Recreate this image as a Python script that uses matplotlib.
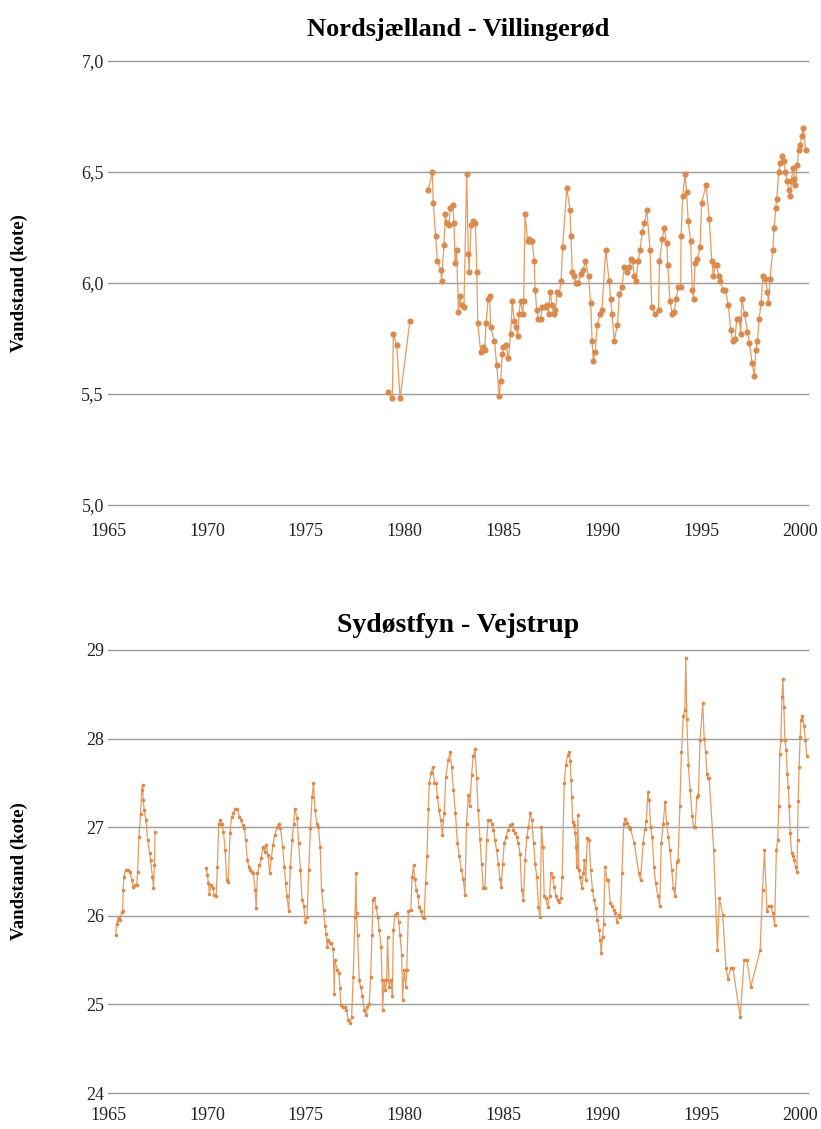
import matplotlib
matplotlib.use('Agg')
import matplotlib.pyplot as plt
from matplotlib.ticker import FuncFormatter

# Nordsjaelland - Villingeroed, two measuring periods
north_yr1 = [1979.18, 1979.38, 1979.43, 1979.60, 1979.77, 1980.27]
north_val1 = [5.51, 5.48, 5.77, 5.72, 5.48, 5.83]

north_yr2 = [
    1981.20, 1981.40, 1981.45, 1981.57, 1981.66, 1981.83, 1981.87, 1981.99, 1982.06, 1982.13,
    1982.25, 1982.30, 1982.43, 1982.50, 1982.55, 1982.63, 1982.72, 1982.80, 1982.88, 1983.00,
    1983.14, 1983.22, 1983.26, 1983.36, 1983.44, 1983.58, 1983.65, 1983.70, 1983.85, 1983.98,
    1984.05, 1984.12, 1984.23, 1984.30, 1984.35, 1984.54, 1984.66, 1984.78, 1984.86, 1984.94,
    1985.00, 1985.13, 1985.25, 1985.36, 1985.45, 1985.54, 1985.64, 1985.72, 1985.78, 1985.87,
    1985.97, 1986.02, 1986.09, 1986.22, 1986.30, 1986.36, 1986.44, 1986.56, 1986.60, 1986.68,
    1986.76, 1986.88, 1986.96, 1987.10, 1987.20, 1987.28, 1987.35, 1987.46, 1987.55, 1987.63,
    1987.72, 1987.82, 1987.91, 1987.99, 1988.20, 1988.36, 1988.41, 1988.48, 1988.58, 1988.66,
    1988.78, 1988.90, 1989.03, 1989.14, 1989.30, 1989.41, 1989.48, 1989.54, 1989.64, 1989.74,
    1989.88, 1989.98, 1990.17, 1990.34, 1990.42, 1990.49, 1990.60, 1990.76, 1990.86, 1990.99,
    1991.11, 1991.23, 1991.35, 1991.43, 1991.53, 1991.61, 1991.70, 1991.81, 1991.91, 1992.01,
    1992.13, 1992.25, 1992.41, 1992.50, 1992.67, 1992.84, 1992.89, 1993.04, 1993.12, 1993.26,
    1993.31, 1993.42, 1993.54, 1993.64, 1993.73, 1993.84, 1993.96, 1993.98, 1994.06, 1994.18,
    1994.26, 1994.34, 1994.46, 1994.55, 1994.61, 1994.69, 1994.80, 1994.94, 1995.02, 1995.24,
    1995.41, 1995.53, 1995.62, 1995.70, 1995.79, 1995.88, 1995.96, 1996.09, 1996.21, 1996.37,
    1996.49, 1996.59, 1996.71, 1996.80, 1996.92, 1997.00, 1997.05, 1997.19, 1997.34, 1997.44,
    1997.57, 1997.69, 1997.76, 1997.84, 1997.93, 1998.03, 1998.11, 1998.23, 1998.35, 1998.40,
    1998.48, 1998.62, 1998.69, 1998.77, 1998.82, 1998.92, 1999.00, 1999.09, 1999.17, 1999.26,
    1999.34, 1999.43, 1999.51, 1999.56, 1999.64, 1999.71, 1999.76, 1999.85, 1999.93, 1999.99,
    2000.10, 2000.17, 2000.28]
north_val2 = [
    6.42, 6.50, 6.36, 6.21, 6.10, 6.06, 6.01, 6.17, 6.31, 6.27,
    6.26, 6.34, 6.35, 6.27, 6.09, 6.15, 5.87, 5.94, 5.90, 5.89,
    6.49, 6.13, 6.05, 6.26, 6.28, 6.27, 6.05, 5.82, 5.69, 5.71,
    5.70, 5.82, 5.93, 5.94, 5.80, 5.74, 5.63, 5.49, 5.56, 5.68,
    5.71, 5.72, 5.66, 5.77, 5.92, 5.83, 5.80, 5.76, 5.86, 5.92,
    5.86, 5.92, 6.31, 6.19, 6.20, 6.19, 6.19, 6.10, 5.97, 5.88,
    5.84, 5.84, 5.89, 5.89, 5.90, 5.86, 5.96, 5.90, 5.86, 5.88,
    5.96, 5.95, 6.01, 6.16, 6.43, 6.33, 6.21, 6.05, 6.03, 6.00,
    6.00, 6.04, 6.06, 6.10, 6.03, 5.91, 5.74, 5.65, 5.69, 5.81,
    5.86, 5.88, 6.15, 6.01, 5.93, 5.86, 5.74, 5.81, 5.95, 5.98,
    6.07, 6.05, 6.07, 6.11, 6.10, 6.03, 6.01, 6.10, 6.15, 6.23,
    6.27, 6.33, 6.15, 5.89, 5.86, 5.88, 6.10, 6.20, 6.25, 6.18,
    6.08, 5.92, 5.86, 5.87, 5.93, 5.98, 5.98, 6.21, 6.39, 6.49,
    6.41, 6.28, 6.19, 5.97, 5.93, 6.09, 6.11, 6.16, 6.36, 6.44,
    6.29, 6.10, 6.03, 6.08, 6.08, 6.03, 6.01, 5.97, 5.97, 5.90,
    5.79, 5.74, 5.75, 5.84, 5.84, 5.77, 5.93, 5.86, 5.78, 5.73,
    5.64, 5.58, 5.70, 5.74, 5.84, 5.91, 6.03, 6.02, 5.96, 5.91,
    6.02, 6.15, 6.25, 6.34, 6.38, 6.50, 6.54, 6.57, 6.55, 6.50,
    6.46, 6.42, 6.39, 6.46, 6.52, 6.47, 6.44, 6.53, 6.60, 6.62,
    6.66, 6.70, 6.60]

# Sydoestfyn - Vejstrup
south_yr1 = [
    1965.40, 1965.43, 1965.50, 1965.55, 1965.60, 1965.69, 1965.74, 1965.77, 1965.80, 1965.89,
    1966.00, 1966.10, 1966.20, 1966.28, 1966.37, 1966.45, 1966.50, 1966.56, 1966.65, 1966.70,
    1966.75, 1966.78, 1966.83, 1966.92, 1967.00, 1967.10, 1967.15, 1967.25, 1967.30, 1967.35,
    1967.38]
south_val1 = [
    25.78, 25.91, 25.95, 25.99, 25.95, 26.04, 26.05, 26.29, 26.44, 26.52,
    26.52, 26.50, 26.40, 26.33, 26.35, 26.35, 26.50, 26.89, 27.15, 27.42,
    27.48, 27.31, 27.19, 27.08, 26.86, 26.71, 26.63, 26.44, 26.31, 26.57,
    26.95]

south_yr2 = [
    1969.96, 1970.03, 1970.08, 1970.13, 1970.20, 1970.29, 1970.37, 1970.47, 1970.53, 1970.60,
    1970.67, 1970.75, 1970.84, 1970.92, 1971.00, 1971.08, 1971.17, 1971.25, 1971.34, 1971.42,
    1971.54, 1971.64, 1971.73, 1971.81, 1971.90, 1971.96, 1972.05, 1972.12, 1972.18, 1972.27,
    1972.35, 1972.44, 1972.49, 1972.56, 1972.66, 1972.75, 1972.83, 1972.92, 1973.00, 1973.09,
    1973.17, 1973.26, 1973.34, 1973.43, 1973.55, 1973.65, 1973.72, 1973.83, 1973.92, 1973.98,
    1974.05, 1974.14, 1974.22, 1974.31, 1974.39, 1974.44, 1974.56, 1974.64, 1974.73, 1974.81,
    1974.90, 1974.98, 1975.07, 1975.15, 1975.24, 1975.32, 1975.39, 1975.47, 1975.56, 1975.64,
    1975.73, 1975.80, 1975.90, 1975.98, 1976.03, 1976.09, 1976.14, 1976.22, 1976.30, 1976.39,
    1976.44, 1976.47, 1976.59, 1976.68, 1976.73, 1976.78, 1976.86, 1976.98, 1977.06, 1977.15,
    1977.23, 1977.32, 1977.40, 1977.49, 1977.54, 1977.57, 1977.62, 1977.71, 1977.77, 1977.87,
    1977.96, 1978.04, 1978.12, 1978.21, 1978.28, 1978.35, 1978.40, 1978.47, 1978.55, 1978.64,
    1978.72, 1978.81, 1978.86, 1978.89, 1978.96, 1979.03, 1979.09, 1979.14, 1979.21, 1979.31,
    1979.38, 1979.43, 1979.51, 1979.63, 1979.70, 1979.77, 1979.85, 1979.90, 1979.97, 1980.06,
    1980.11, 1980.19, 1980.31, 1980.38, 1980.45, 1980.51, 1980.60, 1980.67, 1980.74, 1980.82,
    1980.92, 1980.99, 1981.06, 1981.13, 1981.20, 1981.25, 1981.34, 1981.42, 1981.51, 1981.59,
    1981.66, 1981.74, 1981.83, 1981.91, 1982.00, 1982.08, 1982.21, 1982.30, 1982.38, 1982.47,
    1982.57, 1982.67, 1982.77, 1982.87, 1982.97, 1983.05, 1983.13, 1983.22, 1983.30, 1983.39,
    1983.47, 1983.56, 1983.64, 1983.72, 1983.81, 1983.89, 1983.98, 1984.06, 1984.15, 1984.23,
    1984.32, 1984.40, 1984.49, 1984.57, 1984.65, 1984.74, 1984.82, 1984.89, 1984.96, 1985.04,
    1985.13, 1985.23, 1985.33, 1985.41, 1985.50, 1985.58, 1985.67, 1985.75, 1985.84, 1985.92,
    1986.01, 1986.09, 1986.18, 1986.26, 1986.35, 1986.43, 1986.52, 1986.60, 1986.68, 1986.77,
    1986.85, 1986.92, 1986.99, 1987.06, 1987.14, 1987.23, 1987.33, 1987.40, 1987.48, 1987.57,
    1987.65, 1987.74, 1987.82, 1987.90, 1987.97, 1988.07, 1988.15, 1988.24, 1988.32, 1988.37,
    1988.42, 1988.45, 1988.50, 1988.57, 1988.64, 1988.67, 1988.71, 1988.76, 1988.81, 1988.87,
    1988.96, 1989.04, 1989.09, 1989.16, 1989.24, 1989.33, 1989.41, 1989.50, 1989.58, 1989.67,
    1989.75, 1989.84, 1989.89, 1989.94, 1990.01, 1990.06, 1990.14, 1990.23, 1990.31, 1990.40,
    1990.48, 1990.57, 1990.65, 1990.74, 1990.82, 1990.91, 1990.99, 1991.08, 1991.16, 1991.25,
    1991.33, 1991.42, 1991.62, 1991.84, 1991.93, 1992.06, 1992.15, 1992.23, 1992.30, 1992.37,
    1992.44, 1992.52, 1992.61, 1992.69, 1992.81, 1992.90, 1992.98, 1993.08, 1993.17, 1993.25,
    1993.34, 1993.42, 1993.51, 1993.59, 1993.68, 1993.76, 1993.83, 1993.92, 1994.00, 1994.10,
    1994.17, 1994.22, 1994.27, 1994.35, 1994.44, 1994.54, 1994.61, 1994.69, 1994.78, 1994.86,
    1994.94, 1995.08, 1995.15, 1995.22, 1995.29, 1995.34, 1995.40, 1995.63, 1995.82, 1995.92,
    1996.09, 1996.25, 1996.35, 1996.50, 1996.60, 1996.97, 1997.17, 1997.31, 1997.51, 1997.98,
    1998.10, 1998.20, 1998.32, 1998.41, 1998.53, 1998.61, 1998.71, 1998.80, 1998.87, 1998.92,
    1998.97, 1999.03, 1999.08, 1999.13, 1999.18, 1999.23, 1999.30, 1999.35, 1999.40, 1999.45,
    1999.50, 1999.57, 1999.64, 1999.70, 1999.77, 1999.84, 1999.87, 1999.90, 1999.95, 2000.00,
    2000.05, 2000.12, 2000.20, 2000.27, 2000.34]
south_val2 = [
    26.54, 26.46, 26.37, 26.25, 26.35, 26.31, 26.24, 26.22, 26.55, 27.04,
    27.08, 27.04, 26.95, 26.74, 26.40, 26.38, 26.93, 27.12, 27.16, 27.20,
    27.21, 27.12, 27.08, 27.02, 26.99, 26.86, 26.63, 26.55, 26.52, 26.50,
    26.48, 26.29, 26.09, 26.48, 26.57, 26.65, 26.78, 26.72, 26.80, 26.69,
    26.48, 26.65, 26.80, 26.91, 27.00, 27.04, 26.99, 26.78, 26.55, 26.37,
    26.22, 26.05, 26.55, 26.86, 27.04, 27.21, 27.10, 26.82, 26.52, 26.18,
    26.11, 25.93, 25.99, 26.52, 26.99, 27.34, 27.50, 27.19, 27.04, 27.00,
    26.78, 26.29, 26.06, 25.88, 25.80, 25.65, 25.73, 25.69, 25.69, 25.63,
    25.12, 25.50, 25.39, 25.35, 25.18, 24.99, 24.97, 24.97, 24.94, 24.82,
    24.79, 24.86, 25.31, 25.99, 26.48, 26.03, 25.78, 25.27, 25.20, 25.09,
    24.94, 24.88, 24.97, 25.01, 25.31, 25.78, 26.18, 26.20, 26.10, 25.99,
    25.84, 25.65, 25.28, 24.94, 25.28, 25.16, 25.28, 25.76, 25.20, 25.28,
    25.09, 25.84, 26.01, 26.03, 25.93, 25.78, 25.56, 25.05, 25.39, 25.20,
    25.39, 26.05, 26.07, 26.44, 26.57, 26.41, 26.29, 26.22, 26.10, 26.05,
    25.99, 25.97, 26.37, 26.67, 27.21, 27.50, 27.61, 27.68, 27.50, 27.50,
    27.34, 27.19, 27.08, 26.91, 27.16, 27.57, 27.76, 27.85, 27.68, 27.42,
    27.16, 26.82, 26.67, 26.52, 26.41, 26.23, 27.04, 27.36, 27.24, 27.59,
    27.80, 27.88, 27.55, 27.19, 26.87, 26.59, 26.31, 26.31, 26.86, 27.08,
    27.08, 27.04, 26.97, 26.86, 26.74, 26.59, 26.41, 26.33, 26.59, 26.82,
    26.89, 26.97, 27.02, 27.04, 26.97, 26.93, 26.89, 26.82, 26.70, 26.29,
    26.18, 26.63, 26.89, 27.00, 27.16, 27.08, 26.82, 26.59, 26.44, 26.10,
    25.99, 27.00, 26.78, 26.22, 26.20, 26.10, 26.22, 26.48, 26.44, 26.33,
    26.22, 26.18, 26.16, 26.20, 26.44, 27.50, 27.70, 27.81, 27.85, 27.75,
    27.53, 27.34, 27.06, 27.02, 26.93, 26.78, 26.55, 27.14, 26.52, 26.44,
    26.31, 26.48, 26.63, 26.40, 26.88, 26.85, 26.52, 26.29, 26.18, 26.09,
    25.95, 25.84, 25.73, 25.58, 25.76, 25.91, 26.55, 26.40, 26.40, 26.14,
    26.11, 26.07, 26.03, 25.93, 26.01, 25.99, 26.48, 27.04, 27.09, 27.05,
    27.00, 26.98, 26.82, 26.48, 26.40, 26.82, 26.98, 27.07, 27.40, 27.31,
    27.00, 26.89, 26.55, 26.37, 26.22, 26.11, 26.82, 27.04, 27.29, 27.05,
    26.89, 26.74, 26.52, 26.31, 26.22, 26.61, 26.63, 27.24, 27.85, 28.25,
    28.32, 28.91, 28.22, 27.70, 27.42, 27.13, 27.00, 27.00, 27.34, 27.36,
    27.98, 28.40, 28.00, 27.85, 27.60, 27.55, 27.56, 26.74, 25.61, 26.20,
    26.01, 25.41, 25.29, 25.41, 25.41, 24.86, 25.50, 25.50, 25.20, 25.61,
    26.29, 26.74, 26.05, 26.11, 26.11, 26.03, 25.90, 26.74, 26.86, 27.24,
    27.83, 27.98, 28.47, 28.67, 28.36, 27.98, 27.87, 27.60, 27.45, 27.24,
    26.93, 26.71, 26.67, 26.63, 26.55, 26.50, 26.86, 27.30, 27.68, 28.02,
    28.21, 28.25, 28.14, 27.98, 27.80]

x_ticks = [1965, 1970, 1975, 1980, 1985, 1990, 1995, 2000]
north_ticks = [5.0, 5.5, 6.0, 6.5, 7.0]
south_ticks = [24, 25, 26, 27, 28, 29]

LINE_COL = '#e69c60'
DOT_COL = '#db8a4e'

plt.rcParams['font.family'] = ['Liberation Serif', 'DejaVu Serif']


def comma_one(v, pos):
    return f'{v:.1f}'.replace('.', ',')


def comma_int(v, pos):
    return f'{v:.0f}'


def style_axis(ax, title, ticks, fmt, title_pad, x_pad, title_size):
    ax.set_xlim(1965, 2000.4)
    ax.set_ylim(ticks[0], ticks[-1])
    ax.set_xticks(x_ticks)
    ax.set_yticks(ticks)
    for s in ax.spines.values():
        s.set_visible(False)
    ax.grid(axis='y', color='#9c9c9c', linewidth=1.0)
    for gl in ax.get_ygridlines():
        gl.set_clip_on(False)
    ax.set_axisbelow(True)
    ax.tick_params(length=0, labelsize=13, labelcolor='#222222')
    ax.tick_params(axis='x', pad=x_pad)
    ax.tick_params(axis='y', pad=3)
    ax.yaxis.set_major_formatter(FuncFormatter(fmt))
    ax.set_title(title, fontsize=title_size, fontweight='bold', pad=title_pad)
    ax.set_ylabel('Vandstand (kote)', fontsize=13.5, fontweight='bold')
    ax.yaxis.set_label_coords(-0.114, 0.5)


fig = plt.figure(figsize=(8.21, 11.29), dpi=100)
ax1 = fig.add_axes([108 / 821, 1 - 505 / 1129, 700 / 821, 444 / 1129])
ax2 = fig.add_axes([108 / 821, 1 - 1093 / 1129, 700 / 821, 443 / 1129])

for yr, val in [(north_yr1, north_val1), (north_yr2, north_val2)]:
    ax1.plot(yr, val, color=LINE_COL, lw=0.9, marker='o', ms=3.4,
             mfc=DOT_COL, mec=DOT_COL, clip_on=False)
for yr, val in [(south_yr1, south_val1), (south_yr2, south_val2)]:
    ax2.plot(yr, val, color=LINE_COL, lw=0.9, marker='o', ms=1.6,
             mfc=DOT_COL, mec=DOT_COL, clip_on=False)

style_axis(ax1, 'Nordsjælland - Villingerød', north_ticks, comma_one, 18, 13, 19)
style_axis(ax2, 'Sydøstfyn - Vejstrup', south_ticks, comma_int, 13, 10, 20)

fig.savefig('out.png', dpi=100, facecolor='white')
